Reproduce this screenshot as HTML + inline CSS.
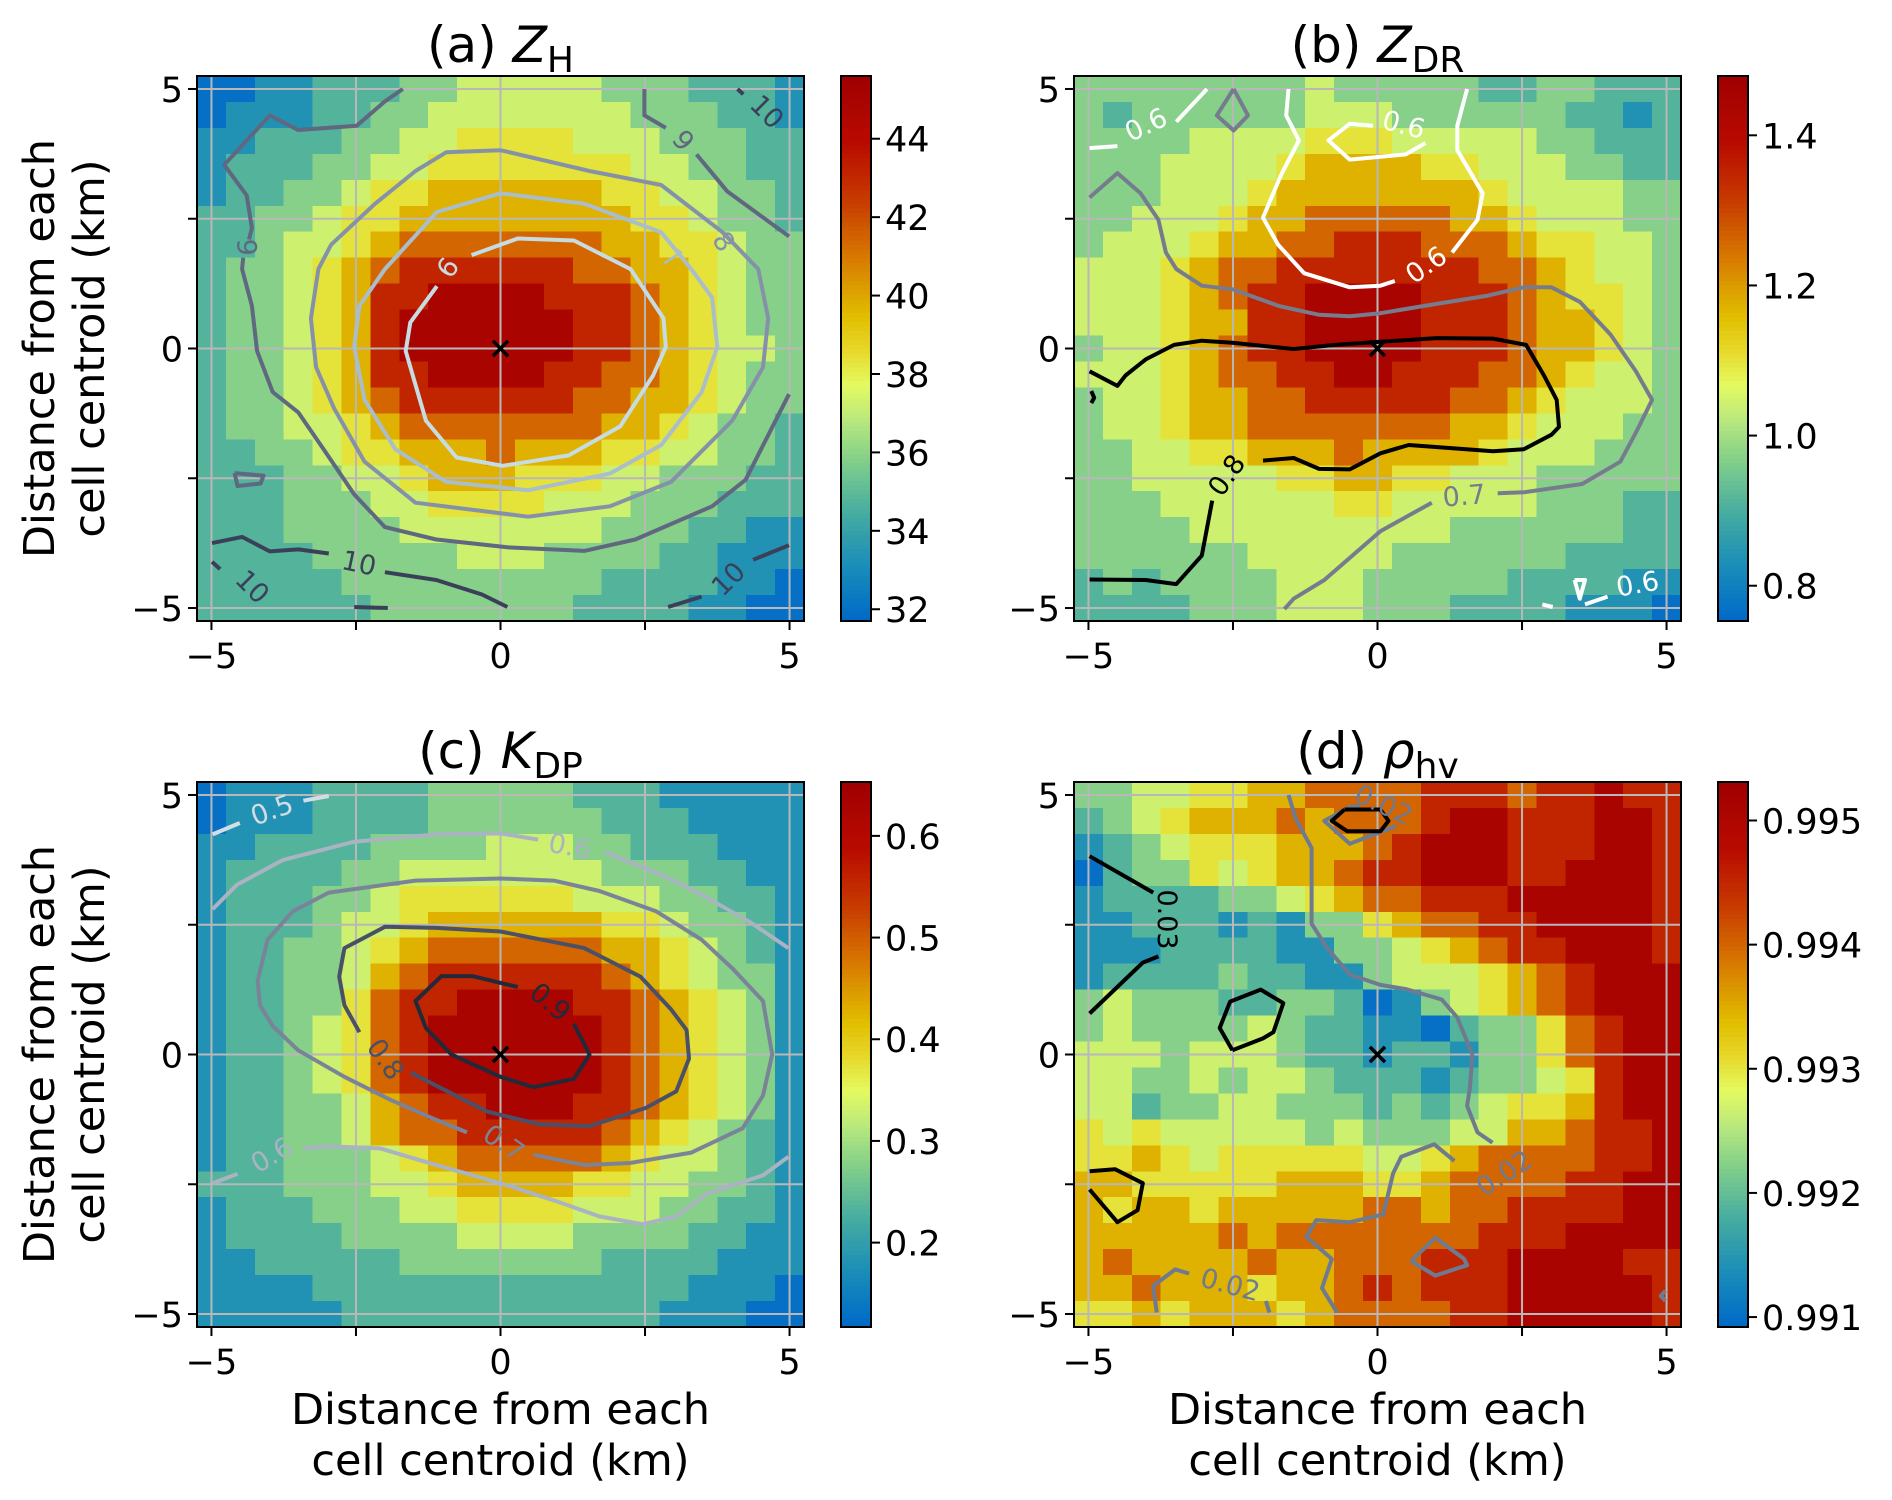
<!DOCTYPE html>
<html><head><meta charset="utf-8">
<style>
html,body{margin:0;padding:0;background:#fff;}
svg{display:block;font-family:"DejaVu Sans","Liberation Sans",sans-serif;}
</style></head>
<body>
<svg id="fig" width="1892" height="1500" viewBox="0 0 1892 1500" xmlns="http://www.w3.org/2000/svg">
<rect x="0" y="0" width="1892" height="1500" fill="#fff"/>
</svg>
<script>
// ---------- DATA (digit 0..9 = level index, see digitLevels) ----------
const zhRows = [
"001122233444443332221","011122334444444333221","112223344555544433322","122233445555555443322",
"122334556666665544332","223345566666666554332","223445677777776655433","233456788888877665433",
"233456889999888765433","233456899999988765433","233456899999988765443","233456889999887765433",
"233456788888877665433","233445677777776654332","223345566676665544332","222334456665554433322",
"222333445555444333222","222333344444443332211","222233333444333322111","222223333333332222110",
"222222333333322221100"];
const zdrRows = [
"333333334333332233222","323333334443333332212","333344445554444433222","333444456666554443322",
"333444566666665444433","334445667777766544433","344456677888777655443","444567788888887765443",
"444567889999888765543","444566889999888766543","344567889999888766543","444567788998887765443",
"344566778888877654443","344566777777766544433","334455666766665444333","334444455665544433333",
"333444444554444433322","333344444444433333322","333333444443333332222","232333344433333222211",
"222233344433322221110"];
const kdpRows = [
"011122223333322211111","011122223333332221111","112222333344433222111","122223344444443332211",
"122233455555544433221","122234456666665543321","122334567777776654321","122334678888887654331",
"122335788999988765431","122345789999998765431","122345789999998765431","122345789999998765431",
"122334678899988765431","122334677888887654321","122333456777776544321","222333445666655443321",
"122233344555544433221","122223333444433332211","112222233333332222111","111122222222222221110",
"111112222222222211100"];
const rhoRows = [
"334455667777888788988","234566676777899888998","123455566678999888998","023354566788999889998",
"122223345677888999998","112221213356778899998","111222211334567889998","122223221134445678999",
"343332233201345678999","343333432211023357899","444344432212213357899","443343443222123345899",
"442334433323234556899","545444443433344667889","556545555544567777889","665555566655677778899",
"656656666677677888899","666667677777778889999","676666766777888999988","667666566787888999998",
"556566656777788999998"];
// fraction of colorbar range for each digit level
const digitLevels = [0.02,0.12,0.22,0.30,0.40,0.48,0.58,0.70,0.82,0.95];

const cbMin = [31.7, 0.753, 0.117, 0.99092];
const cbMax = [45.6, 1.479, 0.653, 0.99531];
const cbTicksA = [32,34,36,38,40,42,44];
const cbTicksB = [0.8,1.0,1.2,1.4];
const cbTicksC = [0.2,0.3,0.4,0.5,0.6];
const cbTicksD = [0.991,0.992,0.993,0.994,0.995];
const axisTicks = [-5,-2.5,0,2.5,5];
const axisTickLabels = ["\u22125","","0","","5"];

const contoursA = [
 {lv:"6",c:"#c6dce2",p:[[-0.5,1.8],[0.3,2.12],[1.27,2.08],[2.25,1.53],[2.82,0.58],[2.86,0.03],[2.64,-0.52],[2.07,-1.5],[1.18,-2.06],[0.04,-2.26],[-0.76,-2.1],[-1.29,-1.39],[-1.64,-0.05],[-1.56,0.5],[-1.1,1.2]]},
 {lv:"7",c:"#a9bdcb",p:[[0,2.99],[1.45,2.79],[2.78,2.24],[3.3,1.53],[3.66,0.98],[3.75,0.03],[3.48,-0.84],[2.78,-1.86],[1.89,-2.41],[0.48,-2.73],[-0.94,-2.57],[-1.82,-1.94],[-2.35,-0.99],[-2.53,0.03],[-2.44,0.82],[-2.0,1.53],[-1.1,2.63],[0,2.99]]},
 {lv:"8",c:"#8591a9",p:[[0,3.82],[-0.94,3.78],[-1.47,3.42],[-2.17,2.79],[-2.93,2.0],[-3.15,1.53],[-3.28,0.58],[-3.19,-0.36],[-2.88,-1.15],[-2.35,-2.18],[-1.47,-2.97],[0.48,-3.24],[1.89,-3.04],[2.95,-2.57],[4.01,-1.39],[4.54,-0.36],[4.63,0.58],[4.46,1.53],[3.84,2.24],[2.78,3.15],[1.54,3.42],[0,3.82]]},
 {lv:"9",c:"#5f6781",p:[[-1.69,5],[-2,4.76],[-2.49,4.29],[-3.5,4.21],[-3.99,4.49],[-4.78,3.54],[-4.39,2.95],[-4.3,2.32],[-4.35,2.1]]},
 {lv:"9",c:"#5f6781",p:[[-4.45,1.75],[-4.47,1.53],[-4.3,0.82],[-4.21,-0.05],[-3.94,-0.84],[-3.5,-1.23],[-3.06,-1.94],[-2.53,-2.81],[-2.0,-3.44],[-1.11,-3.68],[0.12,-3.83],[1.45,-3.9],[2.33,-3.68],[3.66,-3.04],[4.24,-2.53],[4.99,-0.88]]},
 {lv:"9",c:"#5f6781",p:[[2.49,5],[2.49,4.49],[2.86,4.25]]},
 {lv:"9",c:"#5f6781",p:[[3.39,3.74],[3.92,3.03],[4.99,2.16]]},
 {lv:"9",c:"#5f6781",p:[[-4.6,-2.4],[-4.1,-2.45],[-4.15,-2.6],[-4.55,-2.65],[-4.6,-2.4]]},
 {lv:"10",c:"#3b4059",p:[[4.1,5],[4.2,4.9]]},
 {lv:"10",c:"#3b4059",p:[[-4.99,-3.75],[-4.47,-3.63],[-3.99,-3.91],[-3.5,-3.87],[-2.97,-3.95]]},
 {lv:"10",c:"#3b4059",p:[[-2.0,-4.31],[-1.11,-4.46],[-0.32,-4.74],[0.12,-4.98]]},
 {lv:"10",c:"#3b4059",p:[[-4.99,-4.11],[-4.85,-4.25]]},
 {lv:"10",c:"#3b4059",p:[[-2.53,-4.98],[-1.95,-5]]},
 {lv:"10",c:"#3b4059",p:[[2.9,-4.98],[3.48,-4.78]]},
 {lv:"10",c:"#3b4059",p:[[4.37,-4.07],[4.99,-3.79]]}
];
const labelsA = [
 {t:"6",x:-0.9,y:1.55,r:-55,c:"#c6dce2"},{t:"7",x:2.95,y:1.75,r:35,c:"#a9bdcb"},
 {t:"8",x:3.85,y:2.05,r:55,c:"#8591a9"},{t:"9",x:-4.4,y:1.95,r:90,c:"#5f6781"},
 {t:"9",x:3.15,y:4.0,r:50,c:"#5f6781"},{t:"10",x:4.6,y:4.55,r:45,c:"#3b4059"},
 {t:"10",x:-2.45,y:-4.15,r:12,c:"#3b4059"},{t:"10",x:-4.3,y:-4.6,r:45,c:"#3b4059"},
 {t:"10",x:3.95,y:-4.45,r:-45,c:"#3b4059"}
];
const contoursB = [
 {lv:"0.6",c:"#ffffff",p:[[-4.98,3.86],[-4.5,3.9]]},
 {lv:"0.6",c:"#ffffff",p:[[-3.48,4.37],[-2.95,5]]},
 {lv:"0.7",c:"#767c8e",p:[[-2.49,5],[-2.24,4.49],[-2.49,4.2],[-2.78,4.49],[-2.49,5]]},
 {lv:"0.6",c:"#ffffff",p:[[-1.54,5],[-1.58,4.49],[-1.36,4.01],[-1.67,3.34],[-1.98,2.52],[-1.72,2.0],[-1.27,1.45],[-0.48,1.18],[0.05,1.21],[0.3,1.3]]},
 {lv:"0.6",c:"#ffffff",p:[[1.29,1.85],[1.73,2.48],[1.82,2.99],[1.38,3.82],[1.38,4.29],[1.55,5]]},
 {lv:"0.6",c:"#ffffff",p:[[-0.08,4.29],[-0.48,4.33],[-0.85,4.01],[-0.48,3.64],[0.49,3.74],[0.83,3.96]]},
 {lv:"0.7",c:"#767c8e",p:[[-4.98,2.91],[-4.5,3.38],[-4.1,2.99],[-3.79,2.48],[-3.66,1.85],[-3.48,1.53],[-3.04,1.21],[-2.51,1.14],[-1.71,0.82],[-1.01,0.65],[-0.48,0.62],[0.05,0.68],[1.02,0.86],[1.91,1.02],[2.53,1.18],[3.01,1.18],[3.5,0.9],[4.03,0.27],[4.47,-0.44],[4.75,-0.99],[4.47,-1.62],[4.2,-2.18],[3.54,-2.61],[2.53,-2.77],[2.08,-2.79]]},
 {lv:"0.7",c:"#767c8e",p:[[0.94,-2.97],[0.05,-3.52],[-0.92,-4.46],[-1.45,-4.82],[-1.61,-5.02]]},
 {lv:"0.8",c:"#000000",p:[[-4.98,-0.44],[-4.5,-0.72],[-4.36,-0.52],[-4.01,-0.21],[-3.52,0.07],[-3.04,0.15],[-2.51,0.11],[-1.45,-0.01],[-0.74,0.07],[0.05,0.13],[1.02,0.2],[2.0,0.19],[2.57,0.07],[2.88,-0.52],[3.1,-0.99],[3.14,-1.51],[3.01,-1.66],[2.53,-1.94],[2.0,-1.98],[0.54,-1.86],[0.05,-2.02],[-0.48,-2.33],[-1.01,-2.32],[-1.45,-2.11],[-1.98,-2.16]]},
 {lv:"0.8",c:"#000000",p:[[-2.86,-2.93],[-3.04,-3.99],[-3.48,-4.54],[-4.01,-4.46],[-4.98,-4.45]]},
 {lv:"0.8",c:"#000000",p:[[-4.95,-0.82],[-4.9,-0.95],[-4.95,-1.05]]},
 {lv:"0.6",c:"#ffffff",p:[[3.41,-4.46],[3.59,-4.46],[3.5,-4.82],[3.41,-4.46]]},
 {lv:"0.6",c:"#ffffff",p:[[2.85,-4.93],[3.03,-4.98]]},
 {lv:"0.6",c:"#ffffff",p:[[3.59,-4.93],[3.98,-4.78]]}
];
const labelsB = [
 {t:"0.6",x:-4.0,y:4.3,r:-25,c:"#ffffff"},{t:"0.6",x:0.45,y:4.3,r:15,c:"#ffffff"},
 {t:"0.6",x:0.85,y:1.6,r:-35,c:"#ffffff"},{t:"0.7",x:1.5,y:-2.85,r:-5,c:"#767c8e"},
 {t:"0.8",x:-2.6,y:-2.45,r:-55,c:"#000000"},{t:"0.6",x:4.5,y:-4.55,r:-10,c:"#ffffff"}
];
const contoursC = [
 {lv:"0.5",c:"#d3dde3",p:[[-4.98,4.24],[-4.51,4.46]]},
 {lv:"0.5",c:"#d3dde3",p:[[-3.41,4.89],[-2.97,4.98]]},
 {lv:"0.6",c:"#a9b3c1",p:[[-4.98,2.8],[-4.56,3.27],[-3.76,3.75],[-2.53,4.1],[-1.11,4.24],[0,4.26],[0.65,4.14]]},
 {lv:"0.6",c:"#a9b3c1",p:[[1.8,3.9],[2.77,3.47],[3.48,3.08],[4.36,2.52],[4.98,2.05]]},
 {lv:"0.6",c:"#a9b3c1",p:[[-4.98,-2.48],[-4.55,-2.3]]},
 {lv:"0.6",c:"#a9b3c1",p:[[-3.41,-1.81],[-2.97,-1.77],[-2.08,-1.81],[-1.11,-2.13],[0,-2.48],[1.0,-2.84],[1.71,-3.12],[2.46,-3.27],[3.04,-3.12],[3.57,-2.68],[4.01,-2.52],[4.54,-2.33],[4.98,-1.97]]},
 {lv:"0.7",c:"#7b8399",p:[[-0.58,-1.5],[-1.11,-1.26],[-1.91,-0.87],[-2.7,-0.43],[-3.5,0.08],[-3.94,0.55],[-4.16,0.95],[-4.2,1.42],[-4.03,2.21],[-3.59,2.76],[-2.97,3.12],[-1.47,3.35],[0,3.39],[0.92,3.35],[1.71,3.15],[2.69,2.76],[3.48,2.21],[4.01,1.66],[4.54,1.03],[4.7,0],[4.54,-0.79],[4.19,-1.42],[3.3,-1.89],[2.24,-2.09],[1.45,-2.13],[0.57,-1.93]]},
 {lv:"0.8",c:"#4a5068",p:[[-2.44,0.43],[-2.7,0.95],[-2.79,1.5],[-2.7,2.05],[-2.0,2.46],[-1.11,2.44],[0,2.37],[1.45,2.05],[2.42,1.5],[2.95,0.87],[3.22,0.47],[3.26,-0.08],[3.04,-0.71],[2.51,-1.03],[1.54,-1.38],[0.65,-1.34],[-0.23,-1.1],[-1.55,-0.35]]},
 {lv:"0.9",c:"#242939",p:[[0.3,1.3],[-0.49,1.51],[-1.02,1.51],[-1.47,1.03],[-1.29,0.51],[-0.85,0],[0,-0.43],[0.57,-0.63],[1.27,-0.47],[1.54,0],[1.27,0.59]]}
];
const labelsC = [
 {t:"0.5",x:-3.95,y:4.7,r:-20,c:"#d3dde3"},{t:"0.6",x:1.2,y:4.0,r:10,c:"#a9b3c1"},
 {t:"0.6",x:-3.95,y:-1.95,r:-30,c:"#a9b3c1"},{t:"0.7",x:0.05,y:-1.72,r:35,c:"#7b8399"},
 {t:"0.8",x:-2.0,y:-0.1,r:55,c:"#4a5068"},{t:"0.9",x:0.85,y:1.0,r:40,c:"#242939"}
];
const contoursD = [
 {lv:"0.02",c:"#6f7a90",p:[[-1.54,5],[-1.41,4.53],[-1.14,3.98],[-1.14,2.52],[-0.87,2.05],[-0.48,1.54],[0.05,1.34],[0.49,1.26],[1.11,1.06],[1.38,0.71],[1.64,0],[1.6,-0.63],[1.55,-0.99],[1.73,-1.5],[1.99,-1.7]]},
 {lv:"0.02",c:"#6f7a90",p:[[1.33,-2.05],[0.98,-1.73],[0.41,-1.97],[0.27,-2.29],[0.1,-3.08],[-0.48,-3.23],[-1.06,-3.19],[-1.23,-3.51],[-0.79,-3.94],[-0.96,-4.5],[-0.7,-4.97]]},
 {lv:"0.02",c:"#6f7a90",p:[[-0.3,4.78],[-0.48,4.77],[-0.92,4.5],[-0.48,4.06],[0.32,4.4]]},
 {lv:"0.03",c:"#000000",p:[[-0.57,4.72],[-0.79,4.5],[-0.52,4.3],[0.05,4.3],[0.19,4.5],[0.05,4.72],[-0.57,4.72]]},
 {lv:"0.03",c:"#000000",p:[[-4.98,3.82],[-3.88,3.12]]},
 {lv:"0.03",c:"#000000",p:[[-3.79,1.89],[-4.06,1.77],[-4.98,0.79]]},
 {lv:"0.03",c:"#000000",p:[[-2.51,0.08],[-2.73,0.51],[-2.55,1.02],[-2.02,1.25],[-1.63,0.99],[-1.8,0.43],[-1.98,0.31],[-2.51,0.08]]},
 {lv:"0.03",c:"#000000",p:[[-4.98,-2.25],[-4.54,-2.21],[-4.06,-2.48],[-4.15,-3.0],[-4.5,-3.23],[-4.98,-2.6]]},
 {lv:"0.02",c:"#6f7a90",p:[[0.58,-3.98],[1.0,-3.53],[1.5,-3.94],[1.55,-4.06],[1.0,-4.26],[0.58,-3.98]]},
 {lv:"0.02",c:"#6f7a90",p:[[-3.82,-4.97],[-3.88,-4.46],[-3.5,-4.14],[-3.26,-4.22]]},
 {lv:"0.02",c:"#6f7a90",p:[[-1.93,-4.75],[-1.87,-4.97]]},
 {lv:"0.02",c:"#6f7a90",p:[[4.98,-4.55],[4.9,-4.65],[4.98,-4.75]]}
];
const labelsD = [
 {t:"0.02",x:0.1,y:4.8,r:25,c:"#6f7a90"},{t:"0.03",x:-3.65,y:2.6,r:90,c:"#000000"},
 {t:"0.02",x:2.2,y:-2.3,r:-33,c:"#6f7a90"},{t:"0.02",x:-2.55,y:-4.45,r:15,c:"#6f7a90"}
];

// ---------- RENDERING ----------
const NS = "http://www.w3.org/2000/svg";
const fig = document.getElementById('fig');
function mk(tag, attrs, parent){
  const e = document.createElementNS(NS, tag);
  for (const k in attrs) e.setAttribute(k, attrs[k]);
  (parent||fig).appendChild(e);
  return e;
}
const stops = [[0,[0,105,200]],[0.1,[25,140,185]],[0.2,[70,172,160]],[0.31,[140,212,135]],[0.37,[185,232,125]],[0.435,[228,250,95]],[0.5,[230,215,40]],[0.56,[225,190,0]],[0.67,[215,120,0]],[0.77,[200,60,0]],[0.88,[185,10,0]],[1,[160,0,0]]];
function cmap(t){
  t=Math.max(0,Math.min(1,t));
  for(let i=1;i<stops.length;i++){
    if(t<=stops[i][0]){
      const a=stops[i-1],b=stops[i],f=(t-a[0])/(b[0]-a[0]);
      const c=a[1].map((v,j)=>Math.round(v+(b[1][j]-v)*f));
      return "rgb("+c.join(",")+")";
    }
  }
  return "rgb(160,0,0)";
}

const panels = [
 {id:"a",rows:zhRows,cts:contoursA,lbs:labelsA,ticks:cbTicksA,fmt:v=>String(v),left:197,top:76,cbx:841,title:["(a) ","Z","H"]},
 {id:"b",rows:zdrRows,cts:contoursB,lbs:labelsB,ticks:cbTicksB,fmt:v=>v.toFixed(1),left:1074,top:76,cbx:1718,title:["(b) ","Z","DR"]},
 {id:"c",rows:kdpRows,cts:contoursC,lbs:labelsC,ticks:cbTicksC,fmt:v=>v.toFixed(1),left:197,top:782,cbx:841,title:["(c) ","K","DP"]},
 {id:"d",rows:rhoRows,cts:contoursD,lbs:labelsD,ticks:cbTicksD,fmt:v=>v.toFixed(3),left:1074,top:782,cbx:1718,title:["(d) ","\u03c1","hv"]}
];
const W=607, H=545, CBW=30;

panels.forEach((P,pi)=>{
  const lo=cbMin[pi], hi=cbMax[pi];
  const sx = x => P.left + (x+5.25)/10.5*W;
  const sy = y => P.top + (5.25-y)/10.5*H;
  const g = mk('g',{});
  
  
  const hm = mk('g',{'shape-rendering':'crispEdges'},g);
  
  
  P.rows.forEach((row,r)=>{
    for(let c=0;c<21;c++){
      const d = parseInt(row[c] !== undefined ? row[c] : row[row.length-1]);
      const v = lo + digitLevels[d]*(hi-lo);
      const xc = -5 + c*0.5, yc = 5 - r*0.5;
      const x0=sx(xc-0.25), x1=sx(xc+0.25), y0=sy(yc+0.25), y1=sy(yc-0.25);
      const cell = mk('rect',{x:x0.toFixed(2),y:y0.toFixed(2),width:(x1-x0+0.6).toFixed(2),height:(y1-y0+0.6).toFixed(2),fill:cmap((v-lo)/(hi-lo))},hm);
      
      
    }
  });
  axisTicks.forEach(t=>{
    const gl1 = mk('line',{x1:sx(t),x2:sx(t),y1:P.top,y2:P.top+H,stroke:'#b8b8b8','stroke-width':2},g);
    
    
    const gl2 = mk('line',{x1:P.left,x2:P.left+W,y1:sy(t),y2:sy(t),stroke:'#b8b8b8','stroke-width':2},g);
    
    
  });
  P.cts.forEach(ct=>{
    const pts = ct.p.map(q=>sx(q[0]).toFixed(1)+","+sy(q[1]).toFixed(1)).join(" ");
    const pl = mk('polyline',{points:pts,fill:'none',stroke:ct.c,'stroke-width':4,'stroke-linejoin':'round'},g);
    
    
  });
  P.lbs.forEach(L=>{
    const X=sx(L.x), Y=sy(L.y);
    const t = mk('text',{x:X,y:Y,'font-size':27,fill:L.c,'text-anchor':'middle','dominant-baseline':'central',transform:`rotate(${L.r} ${X} ${Y})`},g);
    t.textContent=L.t;
    
    
  });
  const mkx = mk('text',{x:sx(0),y:sy(0),'font-size':30,'font-weight':'bold','text-anchor':'middle','dominant-baseline':'central',fill:'#000'},g);
  mkx.textContent="\u00d7";
  
  
  const fr = mk('rect',{x:P.left,y:P.top,width:W,height:H,fill:'none',stroke:'#000','stroke-width':2},g);
  
  
  axisTicks.forEach((t,i)=>{
    mk('line',{x1:sx(t),x2:sx(t),y1:P.top+H,y2:P.top+H+9,stroke:'#000','stroke-width':2},g);
    mk('line',{x1:P.left,x2:P.left-9,y1:sy(t),y2:sy(t),stroke:'#000','stroke-width':2},g);
    if(axisTickLabels[i]){
      const tx = mk('text',{x:sx(t),y:P.top+H+47,'font-size':35,'text-anchor':'middle',fill:'#000'},g);
      tx.textContent=axisTickLabels[i];
      
      
      const ty = mk('text',{x:P.left-14,y:sy(t)+13,'font-size':35,'text-anchor':'end',fill:'#000'},g);
      ty.textContent=axisTickLabels[i];
      
      
    }
  });
  const tt = mk('text',{x:P.left+W/2,y:P.top-14,'font-size':50,'text-anchor':'middle',fill:'#000'},g);
  
  
  const s1=mk('tspan',{},tt); s1.textContent=P.title[0];
  const s2=mk('tspan',{'font-style':'italic'},tt); s2.textContent=P.title[1];
  const s3=mk('tspan',{'font-size':36,dy:10},tt); s3.textContent=P.title[2];
  const cb = mk('g',{'shape-rendering':'crispEdges'},g);
  
  
  const N=120;
  for(let k=0;k<N;k++){
    const y0=P.top+H - (k+1)*H/N;
    mk('rect',{x:P.cbx,y:y0.toFixed(2),width:CBW,height:(H/N+0.8).toFixed(2),fill:cmap((k+0.5)/N)},cb);
  }
  mk('rect',{x:P.cbx,y:P.top,width:CBW,height:H,fill:'none',stroke:'#000','stroke-width':2},g);
  const cy = v => P.top+H - (v-lo)/(hi-lo)*H;
  P.ticks.forEach(v=>{
    mk('line',{x1:P.cbx+CBW,x2:P.cbx+CBW+9,y1:cy(v),y2:cy(v),stroke:'#000','stroke-width':2},g);
    const tl = mk('text',{x:P.cbx+CBW+14,y:cy(v)+13,'font-size':35,fill:'#000'},g);
    tl.textContent=P.fmt(v);
    
    
  });
});

[[76],[782]].forEach(([top])=>{
  const cyc = top+H/2;
  const yl = mk('text',{x:0,y:0,'font-size':43,'text-anchor':'middle',fill:'#000',transform:`translate(54 ${cyc}) rotate(-90)`});
  
  
  const a=mk('tspan',{x:0,dy:0},yl); a.textContent="Distance from each";
  const b=mk('tspan',{x:0,dy:50},yl); b.textContent="cell centroid (km)";
});
[197,1074].forEach(left=>{
  const xl = mk('text',{x:left+W/2,y:1424,'font-size':43,'text-anchor':'middle',fill:'#000'});
  
  
  const a=mk('tspan',{x:left+W/2,dy:0},xl); a.textContent="Distance from each";
  const b=mk('tspan',{x:left+W/2,dy:51},xl); b.textContent="cell centroid (km)";
});
</script>
</body></html>
